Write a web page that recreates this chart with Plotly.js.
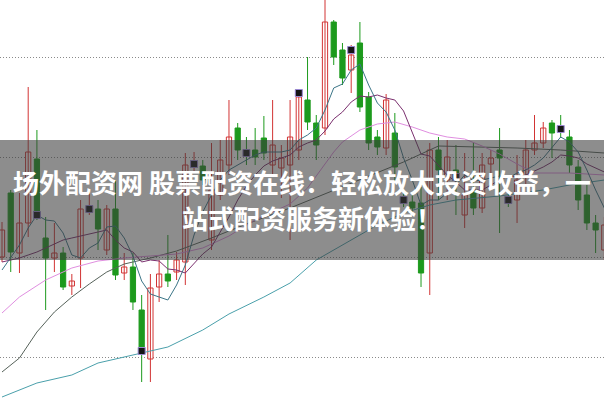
<!DOCTYPE html>
<html><head><meta charset="utf-8">
<script src="https://cdn.plot.ly/plotly-3.0.1.min.js"></script>
<style>html,body{margin:0;padding:0;background:#fff}#chart{width:604px;height:401px}</style>
</head><body><div id="chart"></div>
<script>
// OHLC values (one per candle, left to right)
const openP  = [10.00,10.64,10.04,10.34,10.98,10.19,9.99,10.04,9.71,9.99, 10.47,10.48,10.07,10.48,9.84,9.90,9.47,8.98,9.70,9.83, 9.85,9.95,10.90,10.91,10.17,10.62,10.92,11.29,11.05,11.07, 11.19,10.92,10.89,10.92,11.07,11.57,11.34,11.29,12.35,12.07, 11.87,12.14,11.60,11.20,11.09,11.24,10.59,10.55,10.54,10.04, 11.07,10.77,10.87,10.42,10.67,10.49,10.93,11.07,10.58,10.57, 10.80,11.07,11.14,11.34,11.28,11.20,10.90,10.62,10.34,10.07];
const highP  = [10.35,10.67,10.64,11.70,11.27,10.40,10.34,10.10,9.83,10.57, 10.65,10.57,10.52,10.77,10.04,10.04,9.62,9.83,9.97,10.22, 10.05,11.04,11.05,10.97,11.14,11.17,11.57,11.34,11.20,11.29, 11.41,11.57,11.12,11.57,11.67,12.00,11.42,12.62,12.37,12.14, 12.12,12.35,11.65,11.27,11.63,11.44,10.67,10.62,10.70,11.14, 11.20,11.17,11.12,11.04,11.14,11.04,11.07,11.29,10.67,11.02, 11.17,11.42,11.35,11.37,11.42,11.27,10.97,10.72,10.42,10.40];
const lowP   = [9.95,9.85,9.84,10.20,10.37,9.47,9.85,9.67,9.62,9.69, 10.42,10.07,10.02,9.77,9.77,9.47,8.75,8.75,9.55,9.70, 9.77,9.72,10.85,10.72,10.07,10.57,10.82,10.97,10.92,10.92, 10.97,10.82,10.59,10.17,10.97,11.27,10.97,11.22,11.92,11.72, 11.64,11.45,11.07,11.02,11.02,10.74,10.50,10.44,9.70,9.62, 10.57,10.57,10.42,10.29,10.42,10.44,10.72,10.24,10.50,10.34, 10.72,11.02,11.09,10.99,11.19,10.84,10.47,10.27,10.04,9.97];
const closeP = [10.27,10.05,10.34,11.05,10.40,9.99,10.04,9.70,9.76,10.48, 10.49,10.28,10.48,9.82,9.90,9.55,9.04,9.69,9.83,9.76, 9.97,10.92,10.93,10.77,10.67,10.97,11.20,11.07,11.02,11.00, 11.04,11.12,10.99,11.20,11.60,11.35,11.12,12.35,12.00,11.79, 12.02,11.50,11.14,11.10,11.57,10.90,10.55,10.49,9.84,11.07, 10.87,11.00,10.80,10.62,10.49,10.92,10.99,10.99,10.55,10.77, 11.07,11.14,11.29,11.24,11.26,10.92,10.57,10.34,10.27,10.32];

// moving average lines
const ma5  = [9.87,9.99,10.12,10.29,10.42,10.37,10.36,10.24,10.02,9.99, 10.09,10.14,10.30,10.31,10.19,10.01,9.76,9.63,9.60,9.57, 9.72,9.92,10.22,10.45,10.62,10.77,10.87,10.92,10.97,11.02, 11.05,11.05,11.05,11.07,11.17,11.22,11.29,11.47,11.69,11.73, 11.87,11.93,11.72,11.54,11.45,11.27,10.99,10.77,10.52,10.57, 10.57,10.64,10.72,10.82,10.76,10.77,10.79,10.81,10.79,10.84, 10.87,10.92,10.99,11.10,11.20,11.15,11.05,10.87,10.67,10.49];
const ma10 = [9.95,9.97,9.99,10.02,10.05,10.09,10.13,10.17,10.19,10.21, 10.23,10.25,10.27,10.17,10.09,10.05,9.95,9.97,9.96,9.88, 9.87,9.84,9.93,10.03,10.10,10.25,10.40,10.57,10.71,10.82, 10.91,10.96,10.99,11.02,11.10,11.14,11.17,11.26,11.38,11.45, 11.55,11.61,11.60,11.62,11.59,11.57,11.46,11.25,11.03,11.01, 10.92,10.82,10.75,10.67,10.67,10.67,10.72,10.77,10.81,10.80, 10.82,10.86,10.90,10.95,11.02,11.01,10.99,10.93,10.89,10.85];
const ma20Idx = [0,2,5,8,11,14,17,20,23,26,29,31,33,35,36,37,38,39,41,43,45,47,49,51,53,55,57,59,61,63,65,67,69];
const ma20 = [9.44,9.60,9.77,9.89,9.96,9.99,10.01,10.03,10.09,10.21,10.37,10.45,10.53,10.69,10.81,10.94,11.05,11.15,11.27,11.33,11.35,11.30,11.24,11.20,11.18,11.11,11.03,10.93,10.84,10.84,10.84,10.83,10.82];
const ma30Idx = [0,2,4,6,8,10,12,14,17,20,24,28,33,38,42,46,50,55,59,64,69];
const ma30 = [8.85,8.99,9.25,9.45,9.60,9.73,9.85,9.93,9.99,10.06,10.19,10.33,10.49,10.67,10.81,10.95,11.11,11.10,11.09,11.07,11.04];
const ma60Idx = [0,4,8,11,15,19,23,26,30,33,36,40,43,46,49,52,57,62,65,69];
const ma60 = [8.60,8.74,8.82,8.94,9.02,9.10,9.27,9.43,9.60,9.74,9.97,10.17,10.32,10.44,10.52,10.57,10.61,10.67,10.72,10.77];

// flagged candles (small black squares)
const flagIdx = [4,10,16,22,28,34,40,46,52,58,64];
const flagVal = [10.42,10.48,9.06,10.93,11.04,11.64,12.07,10.57,10.80,10.57,11.28];

const titleLine1 = '场外配资网 股票配资在线：轻松放大投资收益，一';
const titleLine2 = '站式配资服务新体验！';

const RED = '#d23434', GREEN = '#1d9a1d';
const idx = openP.map((_, i) => i);
const up = [], dn = [];
idx.forEach(i => (closeP[i] >= openP[i] ? up : dn).push(i));

function wicks(list, color) {
  const x = [], y = [];
  list.forEach(i => { x.push(i, i, null); y.push(lowP[i], highP[i], null); });
  return {type:'scatter', mode:'lines', x, y, line:{color, width:1}, hoverinfo:'skip', showlegend:false};
}
function bodies(list, fill, line) {
  return {type:'bar', x:list,
    base:list.map(i => Math.min(openP[i], closeP[i])),
    y:list.map(i => Math.max(Math.abs(closeP[i] - openP[i]), 0.015)),
    width:0.6, marker:{color:fill, line:{color:line, width:1}}, hoverinfo:'skip', showlegend:false};
}
function ma(x, y, color) {
  return {type:'scatter', mode:'lines', x, y, line:{color, width:1}, hoverinfo:'skip', showlegend:false};
}

const data = [
  wicks(up, RED), wicks(dn, GREEN),
  bodies(up, '#ffffff', RED), bodies(dn, GREEN, GREEN),
  ma(ma60Idx, ma60, '#4aa0ab'),
  ma(ma30Idx, ma30, '#56625a'),
  ma(ma20Idx, ma20, '#e08ee0'),
  ma(idx, ma10, '#7a2f6e'),
  ma(idx, ma5, '#3b7587'),
  {type:'scatter', mode:'markers', x:flagIdx, y:flagVal,
   marker:{symbol:'square', size:7, color:'#151515', line:{color:'#9a88d2', width:1}},
   hoverinfo:'skip', showlegend:false}
];

const layout = {
  width:604, height:401, margin:{l:0, r:0, t:0, b:0},
  paper_bgcolor:'#ffffff', plot_bgcolor:'#ffffff',
  barmode:'overlay', showlegend:false,
  xaxis:{range:[-0.229, 68.96], showgrid:false, zeroline:false, showticklabels:false, showline:false, ticks:''},
  yaxis:{range:[8.56, 12.57], tickvals:[9,10,11,12], showgrid:true, griddash:'1px,2px', gridcolor:'#8a8a8a', gridwidth:1,
         zeroline:false, showticklabels:false, showline:false, ticks:''},
  shapes:[{type:'rect', xref:'paper', yref:'paper', x0:0, x1:1, y0:1-260/401, y1:1-140/401,
           fillcolor:'rgba(58,58,58,0.58)', line:{width:0}, layer:'above'}],
  annotations:[
    {text:titleLine1, xref:'paper', yref:'paper', x:0.5, y:1-181/401, xanchor:'center', yanchor:'middle', showarrow:false,
     font:{family:'"Noto Sans CJK SC", sans-serif', size:26, color:'#ffffff', weight:700}},
    {text:titleLine2, xref:'paper', yref:'paper', x:180/604, y:1-217/401, xanchor:'left', yanchor:'middle', showarrow:false,
     font:{family:'"Noto Sans CJK SC", sans-serif', size:26, color:'#ffffff', weight:700}}
  ]
};

Plotly.newPlot('chart', data, layout, {staticPlot:true, displayModeBar:false});
</script>
</body></html>
